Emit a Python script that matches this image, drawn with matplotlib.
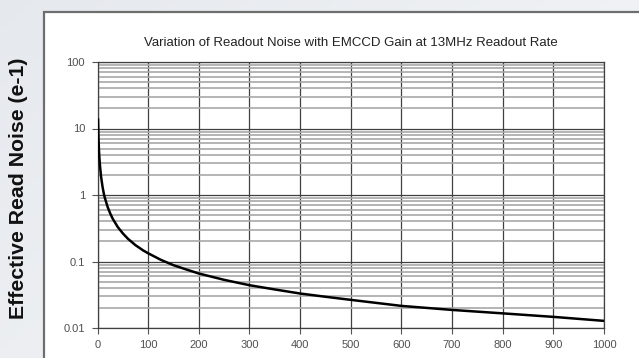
import numpy as np
import matplotlib
matplotlib.use("Agg")
import matplotlib.pyplot as plt
from matplotlib.patches import Rectangle
from matplotlib.ticker import FixedLocator, LogLocator, NullFormatter

# Data (EMCCD gain vs effective read noise)
gain = [1, 2, 3, 4, 5, 7, 10, 13, 15, 20, 25, 30, 40, 50, 60, 75, 90, 100,
        125, 150, 175, 200, 250, 300, 350, 400, 450, 500, 600, 700, 800, 900,
        1000]
noise = [14.2, 6.9, 4.5, 3.4, 2.7, 1.9, 1.32, 1.0, 0.88, 0.66, 0.53, 0.44,
         0.33, 0.265, 0.22, 0.176, 0.147, 0.133, 0.106, 0.088, 0.076, 0.066,
         0.053, 0.044, 0.038, 0.033, 0.0295, 0.0265, 0.0215, 0.0187, 0.0166,
         0.0147, 0.0128]
x_ticks = [0, 100, 200, 300, 400, 500, 600, 700, 800, 900, 1000]
y_ticks = [0.01, 0.1, 1, 10, 100]
y_tick_labels = ["0.01", "0.1", "1", "10", "100"]
title = "Variation of Readout Noise with EMCCD Gain at 13MHz Readout Rate"
ylabel = "Effective Read Noise (e-1)"

W, H = 639, 358
fig = plt.figure(figsize=(W / 100, H / 100), dpi=100)

# background gradient
bg = fig.add_axes([0, 0, 1, 1], zorder=-10)
gx = np.linspace(0, 1, 200)
gy = np.linspace(0, 1, 120)
GX, GY = np.meshgrid(gx, gy)
t = np.clip(0.6 * GX + 0.4 * GY, 0, 1)
c0 = np.array([0.90, 0.912, 0.93])
c1 = np.array([0.965, 0.97, 0.978])
img = c0[None, None, :] * (1 - t[..., None]) + c1[None, None, :] * t[..., None]
bg.imshow(img, extent=[0, W, H, 0], aspect="auto")
bg.set_xlim(0, W)
bg.set_ylim(H, 0)
bg.axis("off")
bg.add_patch(Rectangle((44, 12), W, H, facecolor="white", edgecolor="#6e6e6e",
                       linewidth=1.6))

ax = fig.add_axes([97.5 / W, 1 - 328 / H, (604 - 97.5) / W, (328 - 62) / H])
ax.set_facecolor("white")
ax.plot(gain, noise, color="black", lw=1.8, zorder=5, solid_capstyle="butt")
ax.set_yscale("log")
ax.set_xlim(0, 1000)
ax.set_ylim(0.01, 100)

ax.xaxis.set_major_locator(FixedLocator(x_ticks))
ax.set_xticklabels([str(v) for v in x_ticks])
ax.yaxis.set_major_locator(FixedLocator(y_ticks))
ax.set_yticklabels(y_tick_labels)
ax.yaxis.set_minor_locator(LogLocator(base=10, subs=np.arange(2, 10)))
ax.yaxis.set_minor_formatter(NullFormatter())

ax.grid(True, which="major", axis="both", color="#404040", lw=0.9, zorder=1)
ax.grid(True, which="minor", axis="y", color="#a8a8a8", lw=1.2, zorder=0)
ax.tick_params(which="major", length=4, width=0.8, color="#555555",
               labelsize=8, labelcolor="#505050", pad=5)
ax.tick_params(which="minor", length=0)
for lbl in ax.get_xticklabels() + ax.get_yticklabels():
    lbl.set_family("Liberation Sans")
for s in ax.spines.values():
    s.set_color("#404040")
    s.set_linewidth(0.9)

fig.text(351 / W, 1 - 43 / H, title, ha="center", va="center", fontsize=9.5,
         family="Liberation Sans", color="#222222")
fig.text(19 / W, 1 - 188 / H, ylabel, ha="center", va="center", rotation=90,
         fontsize=15.3, fontweight="bold", family="Liberation Sans", color="#111111")

fig.savefig("out.png", dpi=100)
